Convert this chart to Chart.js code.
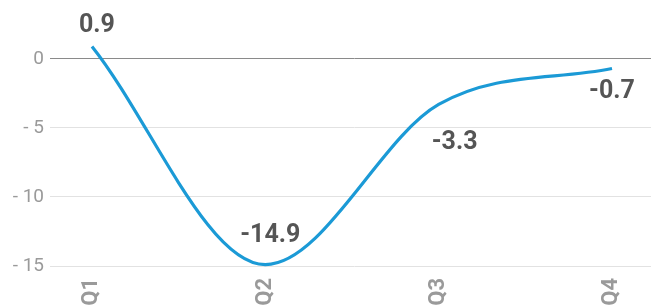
<!DOCTYPE html>
<html>
<head>
<meta charset="utf-8">
<script src="https://cdn.jsdelivr.net/npm/chart.js@4.4.1/dist/chart.umd.min.js"></script>
<style>
  html, body { margin: 0; padding: 0; background: #fff; }
  #wrap { width: 651px; height: 306px; }
</style>
</head>
<body>
<div id="wrap"><canvas id="growthChart"></canvas></div>
<script>
const quarters = ["Q1", "Q2", "Q3", "Q4"];
const growth = [0.9, -14.9, -3.3, -0.7];
const yTicks = [0, -5, -10, -15];

// where each value label sits relative to its point (px)
const labelShift = [[5, -21], [5, -29], [16, 38], [0, 23]];

const FONT = "Roboto, 'Noto Sans', sans-serif";

// draws the bold numbers next to the points
const valueLabels = {
  id: "valueLabels",
  afterDatasetsDraw(chart) {
    const ctx = chart.ctx;
    const meta = chart.getDatasetMeta(0);
    ctx.save();
    ctx.font = "bold 25px " + FONT;
    ctx.fillStyle = "#555555";
    ctx.textAlign = "center";
    ctx.textBaseline = "middle";
    meta.data.forEach((pt, i) => {
      ctx.fillText(String(growth[i]), pt.x + labelShift[i][0], pt.y + labelShift[i][1]);
    });
    ctx.restore();
  }
};

new Chart(document.getElementById("growthChart"), {
  type: "line",
  data: {
    datasets: [{
      data: growth.map((v, i) => ({ x: i, y: v })),
      borderColor: "#1b9ad6",
      borderWidth: 3.2,
      pointRadius: 0,
      cubicInterpolationMode: "monotone",
      fill: false,
      clip: false
    }]
  },
  options: {
    responsive: true,
    maintainAspectRatio: false,
    animation: false,
    layout: { padding: { top: 14, right: 0, left: 0, bottom: 0 } },
    plugins: { legend: { display: false }, tooltip: { enabled: false } },
    scales: {
      x: {
        type: "linear",
        min: -0.196,
        max: 3.225,
        grid: { display: false, drawTicks: false },
        border: { display: false },
        afterBuildTicks: (scale) => { scale.ticks = quarters.map((_, i) => ({ value: i })); },
        afterFit: (scale) => { scale.height = 40; },
        ticks: {
          minRotation: 90,
          maxRotation: 90,
          padding: 12,
          color: "#9a9a9a",
          font: { family: FONT, size: 22, weight: "bold" },
          callback: (v) => quarters[v]
        }
      },
      y: {
        min: -15,
        max: 3,
        afterBuildTicks: (scale) => { scale.ticks = yTicks.map((v) => ({ value: v })); },
        afterFit: (scale) => { scale.width = 58; },
        border: { display: false },
        grid: {
          tickLength: 8,
          color: (c) => (c.tick && c.tick.value === 0 ? "#8a8a8a" : "#e2e2e2")
        },
        ticks: {
          padding: 6,
          color: "#9a9a9a",
          font: { family: FONT, size: 19 },
          callback: (v) => (v === 0 ? "0" : "- " + Math.abs(v))
        }
      }
    }
  },
  plugins: [valueLabels]
});
</script>
</body>
</html>
